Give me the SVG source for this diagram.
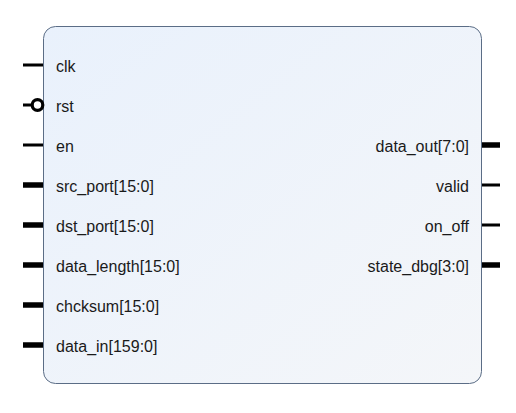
<svg xmlns="http://www.w3.org/2000/svg" width="516" height="413" viewBox="0 0 516 413">
<defs>
<linearGradient id="bg" x1="0" y1="0" x2="1" y2="1">
<stop offset="0" stop-color="#e9f1fc"/>
<stop offset="1" stop-color="#f4f6f9"/>
</linearGradient>
<style>
text{font-family:"Liberation Sans",Arial,sans-serif;font-size:16px;fill:#1a1a1a}
.r{text-anchor:end}
.w{stroke:#000;stroke-width:3}
.b{stroke:#000;stroke-width:5.5}
</style>
</defs>
<rect width="516" height="413" fill="#fff"/>
<g id="block">
<rect x="43.5" y="26.5" width="438" height="357" rx="12" ry="12" fill="url(#bg)" stroke="#5b6d86" stroke-width="1"/>
</g>
<g id="connectors">
<line class="w" x1="23" y1="65" x2="43" y2="65"/>
<line class="w" x1="23" y1="105" x2="32" y2="105"/>
<circle cx="37.5" cy="105" r="5.3" fill="#fff" stroke="#000" stroke-width="3.2"/>
<line class="w" x1="23" y1="145" x2="43" y2="145"/>
<line class="b" x1="23" y1="185" x2="43" y2="185"/>
<line class="b" x1="23" y1="225" x2="43" y2="225"/>
<line class="b" x1="23" y1="265" x2="43" y2="265"/>
<line class="b" x1="23" y1="305" x2="43" y2="305"/>
<line class="b" x1="23" y1="345" x2="43" y2="345"/>
<line class="b" x1="482" y1="145" x2="500" y2="145"/>
<line class="w" x1="482" y1="185" x2="500" y2="185"/>
<line class="w" x1="482" y1="225" x2="500" y2="225"/>
<line class="b" x1="482" y1="265" x2="500" y2="265"/>
</g>
<g id="port-clk"><text x="56" y="71.5">clk</text></g>
<g id="port-rst"><text x="56" y="111.5">rst</text></g>
<g id="port-en"><text x="56" y="151.5">en</text></g>
<g id="port-src_port"><text x="56" y="191.5">src_port[15:0]</text></g>
<g id="port-dst_port"><text x="56" y="231.5">dst_port[15:0]</text></g>
<g id="port-data_length"><text x="56" y="271.5">data_length[15:0]</text></g>
<g id="port-chcksum"><text x="56" y="311.5">chcksum[15:0]</text></g>
<g id="port-data_in"><text x="56" y="351.5">data_in[159:0]</text></g>
<g id="port-data_out"><text class="r" x="469" y="151.5">data_out[7:0]</text></g>
<g id="port-valid"><text class="r" x="469" y="191.5">valid</text></g>
<g id="port-on_off"><text class="r" x="469" y="231.5">on_off</text></g>
<g id="port-state_dbg"><text class="r" x="469" y="271.5">state_dbg[3:0]</text></g>
</svg>
